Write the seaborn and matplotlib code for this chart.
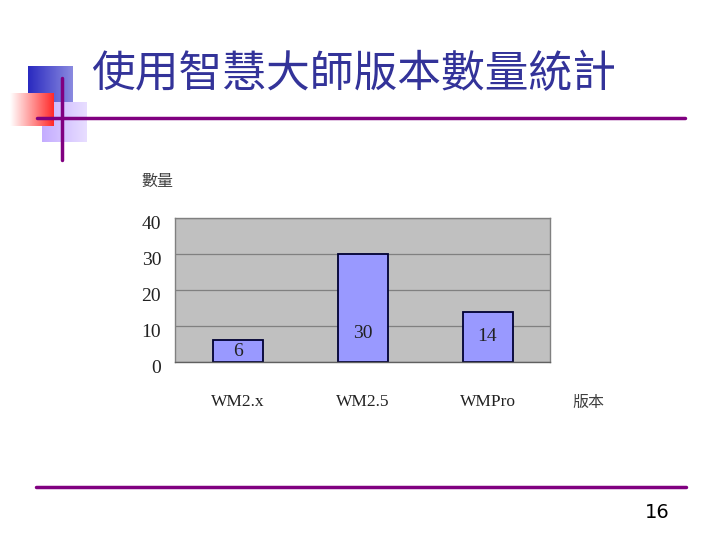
import numpy as np
import pandas as pd
import seaborn as sns
import matplotlib.pyplot as plt
import matplotlib.transforms as mtransforms

# Data
versions = ['WM2.x', 'WM2.5', 'WMPro']
counts = [6, 30, 14]
title = '使用智慧大師版本數量統計'
y_label = '數量'
x_label = '版本'
page_no = '16'

df = pd.DataFrame({'version': versions, 'count': counts})

sns.set_style('white')
plt.rcParams['font.family'] = ['Noto Sans CJK TC', 'DejaVu Sans']

fig = plt.figure(figsize=(7.2, 5.4), dpi=100)

# Slide decoration layer (pixel coordinates)
deco = fig.add_axes([0, 0, 1, 1], zorder=0)
deco.axis('off')

def grad_square(x0, y0, x1, y1, c_left, c_right):
    t = np.linspace(0, 1, 64)
    cl = np.array(plt.matplotlib.colors.to_rgb(c_left))
    cr = np.array(plt.matplotlib.colors.to_rgb(c_right))
    img = cl[None, :] * (1 - t[:, None]) + cr[None, :] * t[:, None]
    deco.imshow(img[None, :, :], extent=[x0, x1, y1, y0], aspect='auto')

grad_square(28, 66, 73, 103, '#2a2ac0', '#8a8ae0')
grad_square(42, 102, 87, 142, '#c4acff', '#e8deff')
grad_square(10, 93, 54, 126, '#ffffff', '#ff2a2a')
deco.plot([37, 685], [118, 118], color='#800080', lw=2.5)
deco.plot([62, 62], [78, 160], color='#800080', lw=2.5)
deco.plot([36, 686], [487, 487], color='#800080', lw=2.5)
deco.set_xlim(0, 720)
deco.set_ylim(540, 0)

fig.text(91 / 720, 1 - 74 / 540, title, fontsize=31.5, color='#333399',
         va='center', ha='left')
fig.text(657 / 720, 1 - 512 / 540, page_no, fontsize=14, color='black',
         family='DejaVu Sans', ha='center', va='center')

# Chart
ax = fig.add_axes([175 / 720, 1 - 362 / 540, 375 / 720, 144 / 540], zorder=1)
ax.set_facecolor('#c0c0c0')
sns.barplot(data=df, x='version', y='count', ax=ax, color='#9999ff',
            width=0.4, edgecolor='#000033', linewidth=1.3, saturation=1)
ax.set_xlim(-0.5, 2.5)
ax.set_ylim(0, 40)
ax.set_yticks([0, 10, 20, 30, 40])
ax.yaxis.grid(True, color='#808080', lw=0.9)
ax.set_axisbelow(True)
for s in ax.spines.values():
    s.set_color('#808080')
    s.set_linewidth(1)
ax.spines['bottom'].set_color('#606060')

serif = 'Liberation Serif'
ax.tick_params(axis='y', length=0, pad=10)
ax.tick_params(axis='x', length=0, pad=23)
ax.set_xticks(range(len(versions)))
ax.set_xticklabels(versions, family=serif, fontsize=12.5, color='#222222')
shift = mtransforms.ScaledTranslation(0, -3 / 72, fig.dpi_scale_trans)
for lbl in ax.get_yticklabels():
    lbl.set_family(serif)
    lbl.set_fontsize(14)
    lbl.set_color('#222222')
    lbl.set_transform(lbl.get_transform() + shift)
ax.set_xticks([0.5, 1.5], minor=True)
ax.tick_params(axis='x', which='minor', direction='in', length=4,
               color='#808080', width=1)
ax.set_xlabel('')
ax.set_ylabel('')

for i, v in enumerate(counts):
    ax.text(i, min(v / 2, 8), str(v), family=serif, fontsize=14,
            color='#222222', ha='center', va='center')

fig.text(157 / 720, 1 - 181 / 540, y_label, fontsize=11.5, color='#404040',
         ha='center', va='center')
fig.text(588 / 720, 1 - 402 / 540, x_label, fontsize=11.5, color='#404040',
         ha='center', va='center')

fig.savefig('out.png', dpi=100)
